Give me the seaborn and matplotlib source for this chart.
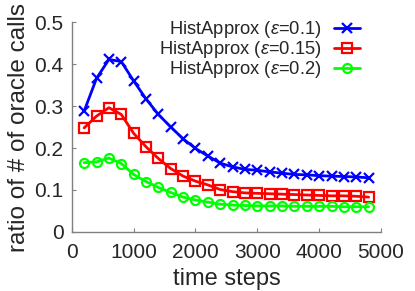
import numpy as np
import pandas as pd
import matplotlib
matplotlib.use("Agg")
import matplotlib.pyplot as plt
import seaborn as sns

# time steps (x) shared by all three curves
steps = list(range(200, 4801, 200))

# ratio of # of oracle calls
eps_01 = [0.288, 0.366, 0.411, 0.406, 0.360, 0.317, 0.280, 0.250, 0.222, 0.199,
          0.181, 0.164, 0.155, 0.149, 0.147, 0.143, 0.140, 0.137, 0.136, 0.134,
          0.133, 0.132, 0.131, 0.129]
eps_015 = [0.248, 0.276, 0.296, 0.280, 0.235, 0.203, 0.175, 0.151, 0.133, 0.121,
           0.112, 0.101, 0.096, 0.093, 0.092, 0.091, 0.090, 0.089, 0.088, 0.087,
           0.086, 0.086, 0.085, 0.083]
eps_02 = [0.165, 0.167, 0.176, 0.163, 0.137, 0.120, 0.106, 0.094, 0.083, 0.076,
          0.071, 0.066, 0.064, 0.063, 0.062, 0.062, 0.062, 0.061, 0.061, 0.061,
          0.061, 0.060, 0.060, 0.060]

labels = [r"HistApprox ($\varepsilon$=0.1)",
          r"HistApprox ($\varepsilon$=0.15)",
          r"HistApprox ($\varepsilon$=0.2)"]
series = [eps_01, eps_015, eps_02]
colors = ["#0000ff", "#ff0000", "#00ff00"]
markers = ["x", "s", "o"]

df = pd.concat([pd.DataFrame({"step": steps, "ratio": vals, "method": lab})
                for lab, vals in zip(labels, series)], ignore_index=True)

sns.set_style("white")
plt.rcParams["font.family"] = ["Liberation Sans", "DejaVu Sans"]
plt.rcParams["mathtext.fontset"] = "custom"
plt.rcParams["mathtext.it"] = "Liberation Sans:italic"
plt.rcParams["mathtext.rm"] = "Liberation Sans"

fig = plt.figure(figsize=(4.15, 2.91), dpi=100)
ax = fig.add_axes([0.173, 0.203, 0.745, 0.721])

for lab, col, mk in zip(labels, colors, markers):
    sub = df[df["method"] == lab]
    sns.lineplot(data=sub, x="step", y="ratio", ax=ax, color=col, marker=mk,
                 markersize=6.5 if mk != "x" else 7, markerfacecolor="none",
                 markeredgecolor=col, markeredgewidth=1.6, linewidth=2,
                 label=lab)

ax.set_xlim(0, 5000)
ax.set_ylim(0, 0.5)
ax.set_xticks([0, 1000, 2000, 3000, 4000, 5000])
ax.set_yticks([0, 0.1, 0.2, 0.3, 0.4, 0.5])
ax.set_yticklabels(["0", "0.1", "0.2", "0.3", "0.4", "0.5"])
ax.tick_params(direction="in", length=3, width=0.8, color="#808080",
               labelsize=15, bottom=True, left=True)
ax.tick_params(axis="x", pad=8)
ax.tick_params(axis="y", pad=6)
for side in ["top", "right"]:
    ax.spines[side].set_visible(False)
for side in ["left", "bottom"]:
    ax.spines[side].set_color("#808080")
    ax.spines[side].set_linewidth(1)

ax.set_xlabel("time steps", fontsize=17, labelpad=4)
ax.set_ylabel("ratio of # of oracle calls", fontsize=17.5, labelpad=3)

ax.legend(loc="upper right", bbox_to_anchor=(0.932, 1.015), frameon=False,
          markerfirst=False, alignment="right", fontsize=13.2,
          handlelength=1.4, handletextpad=0.7, labelspacing=-0.05,
          borderpad=0, borderaxespad=0)

fig.savefig("out.png", dpi=100)
